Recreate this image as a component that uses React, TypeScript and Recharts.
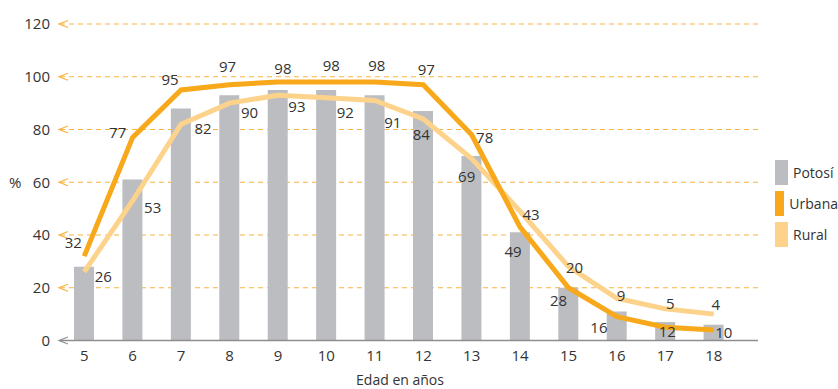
import React from 'react';
import {
  ComposedChart,
  Bar,
  Line,
  XAxis,
  YAxis,
  CartesianGrid,
  Legend,
  LabelList,
} from 'recharts';

// Age groups on the category axis
const AGES = ['5', '6', '7', '8', '9', '10', '11', '12', '13', '14', '15', '16', '17', '18'];

// Attendance rates (%) by age
const POTOSI = [28, 61, 88, 93, 95, 95, 93, 87, 70, 41, 20, 11, 7, 6];
const URBANA = [32, 77, 95, 97, 98, 98, 98, 97, 78, 43, 20, 9, 5, 4];
const RURAL = [26, 53, 82, 90, 93, 92, 91, 84, 69, 49, 28, 16, 12, 10];

const Y_TICKS = [0, 20, 40, 60, 80, 100, 120];
const GRID_VALUES = [20, 40, 60, 80, 100, 120];

// Where each value label sits relative to its point (dx, dy)
const URBANA_LABEL_OFFSETS: [number, number][] = [
  [-11, -13], [-15, -5], [-11, -10], [-2, -18], [5, -13], [5, -16], [2, -16],
  [3, -15], [13, 3], [11, -12], [6, -20], [4, -21], [5, -24], [2, -25],
];
const RURAL_LABEL_OFFSETS: [number, number][] = [
  [19, 5], [20, 7], [22, 5], [20, 10], [19, 12], [19, 15], [18, 22],
  [-2, 16], [-5, 18], [-7, 40], [-10, 34], [-18, 29], [2, 23], [10, 19],
];

const COLORS = {
  Potosí: '#BCBDC1',
  Urbana: '#F7A81B',
  Rural: '#FDD38C',
};
const GRID_COLOR = '#F8B340';
const AXIS_COLOR = '#8E8E90';
const TEXT_COLOR = '#333333';
const FONT = '"Open Sans", "Noto Sans", sans-serif';

const LEGEND_ORDER = ['Potosí', 'Urbana', 'Rural'];

const rows = AGES.map((age, i) => ({
  age,
  potosi: POTOSI[i],
  urbana: URBANA[i],
  rural: RURAL[i],
}));

const YTick = (props: any) => {
  const { x, y, payload } = props;
  const isZero = payload.value === 0;
  const c = isZero ? AXIS_COLOR : GRID_COLOR;
  return (
    <g>
      <text
        x={x - 10}
        y={y}
        dy="0.35em"
        textAnchor="end"
        fontSize={15}
        fontFamily={FONT}
        fill={TEXT_COLOR}
      >
        {payload.value}
      </text>
      <path
        d={`M ${x + 8} ${y - 3.5} L ${x - 1} ${y} L ${x + 8} ${y + 3.5}`}
        fill="none"
        stroke={c}
        strokeWidth={1.2}
      />
    </g>
  );
};

const makeLabel = (offsets: [number, number][]) => (props: any) => {
  const { x, y, value, index } = props;
  const [dx, dy] = offsets[index] || [0, -12];
  return (
    <text
      x={x + dx}
      y={y + dy}
      dy="0.35em"
      textAnchor="middle"
      fontSize={15}
      fontFamily={FONT}
      fill={TEXT_COLOR}
    >
      {value}
    </text>
  );
};

const renderLegend = (props: any) => {
  const payload = (props.payload || []).slice();
  payload.sort(
    (a: any, b: any) => LEGEND_ORDER.indexOf(a.value) - LEGEND_ORDER.indexOf(b.value)
  );
  return (
    <div style={{ fontFamily: FONT, fontSize: 14, color: TEXT_COLOR }}>
      {payload.map((item: any) => (
        <div
          key={item.value}
          style={{ display: 'flex', alignItems: 'center', height: 25, marginBottom: 6 }}
        >
          <div
            style={{
              width: 13,
              height: 25,
              background: (COLORS as any)[item.value] || item.color,
              marginRight: 5,
            }}
          />
          <span>{item.value}</span>
        </div>
      ))}
    </div>
  );
};

export default function App() {
  return (
    <div style={{ position: 'absolute', left: 0, top: 0, width: 838, height: 389, background: '#fff' }}>
      <ComposedChart
        width={838}
        height={389}
        data={rows}
        margin={{ top: 24, right: 80, bottom: 0, left: 0 }}
      >
        <CartesianGrid
          vertical={false}
          horizontalValues={GRID_VALUES}
          stroke={GRID_COLOR}
          strokeDasharray="5 4"
        />
        <XAxis
          dataKey="age"
          padding={{ left: 0, right: 20 }}
          height={48.5}
          tickLine={false}
          axisLine={{ stroke: AXIS_COLOR, strokeWidth: 1.5 }}
          tick={{ fontSize: 15, fontFamily: FONT, fill: TEXT_COLOR }}
          tickMargin={4}
          label={{
            value: 'Edad en años',
            position: 'insideBottom',
            offset: 4,
            dx: -9,
            fontSize: 14,
            fontFamily: FONT,
            fill: TEXT_COLOR,
          }}
        />
        <YAxis
          width={60}
          domain={[0, 120]}
          ticks={Y_TICKS}
          interval={0}
          tickLine={false}
          axisLine={false}
          tickSize={0}
          tickMargin={0}
          tick={<YTick />}
          label={{
            value: '%',
            position: 'insideLeft',
            offset: 9,
            fontSize: 15,
            fontFamily: FONT,
            fill: TEXT_COLOR,
          }}
        />
        <Legend
          layout="vertical"
          align="center"
          verticalAlign="middle"
          content={renderLegend}
          wrapperStyle={{ left: 775, top: 160, width: 63 }}
        />
        <Bar
          dataKey="potosi"
          name="Potosí"
          fill={COLORS['Potosí']}
          barSize={20}
          isAnimationActive={false}
        />
        <Line
          dataKey="rural"
          name="Rural"
          type="linear"
          stroke={COLORS.Rural}
          strokeWidth={5}
          dot={false}
          activeDot={false}
          isAnimationActive={false}
        >
          <LabelList dataKey="rural" content={makeLabel(RURAL_LABEL_OFFSETS)} />
        </Line>
        <Line
          dataKey="urbana"
          name="Urbana"
          type="linear"
          stroke={COLORS.Urbana}
          strokeWidth={5}
          dot={false}
          activeDot={false}
          isAnimationActive={false}
        >
          <LabelList dataKey="urbana" content={makeLabel(URBANA_LABEL_OFFSETS)} />
        </Line>
      </ComposedChart>
    </div>
  );
}
